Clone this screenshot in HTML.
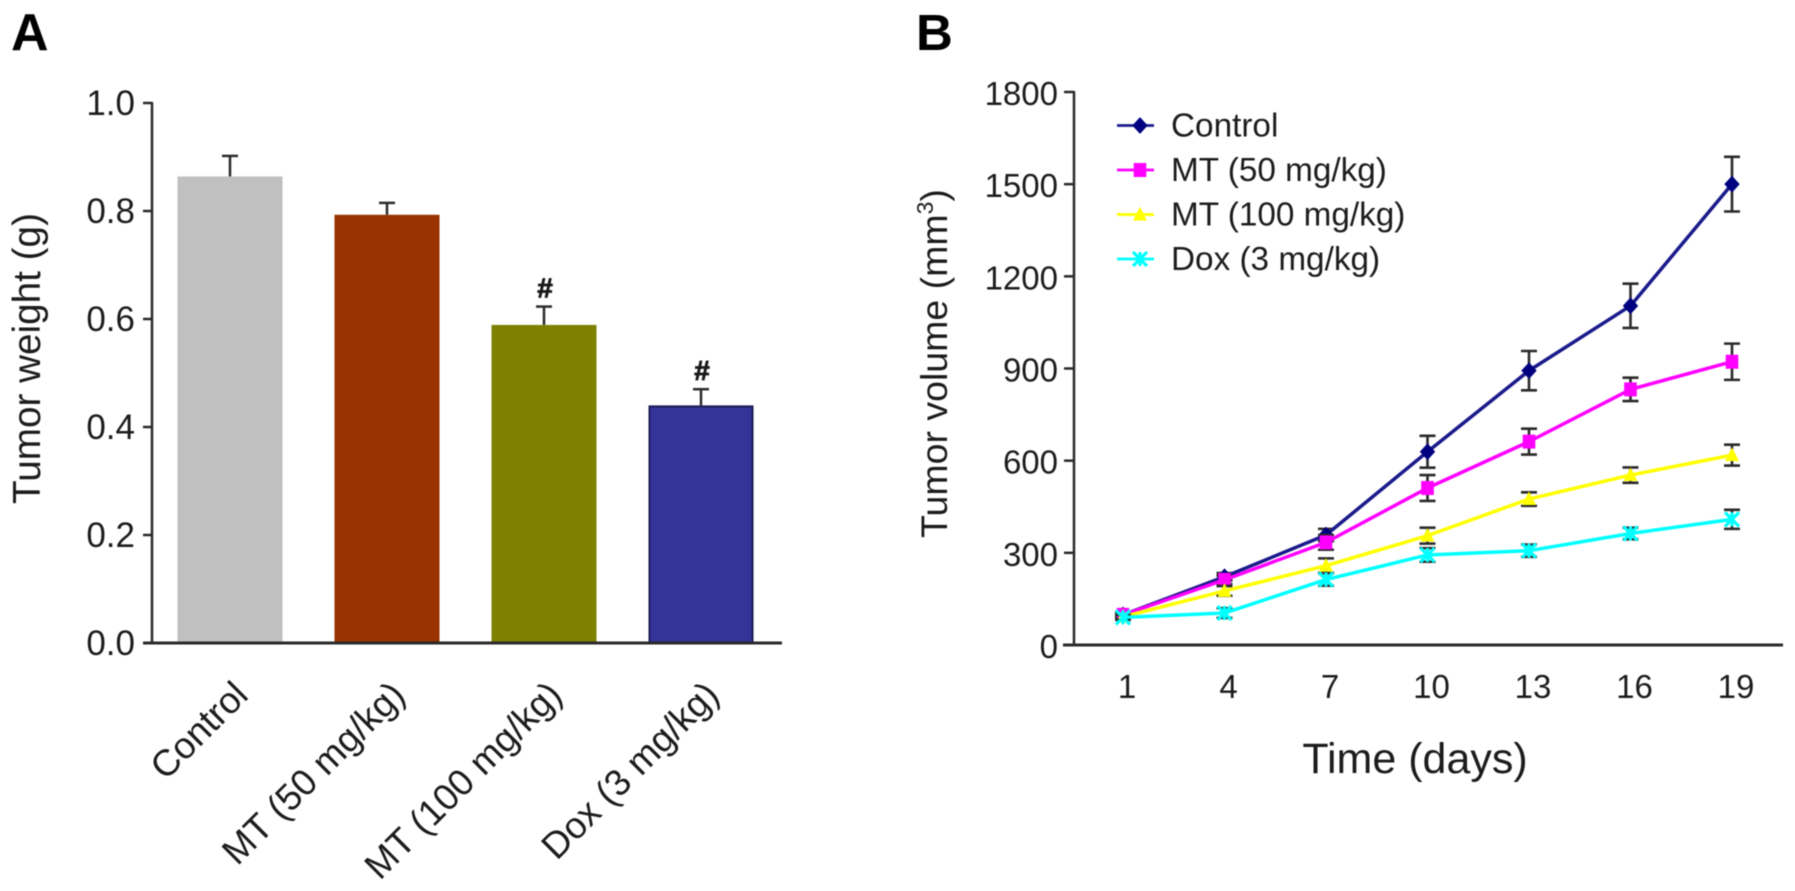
<!DOCTYPE html>
<html lang="en">
<head>
<meta charset="utf-8">
<title>Tumor weight and volume</title>
<style>
html,body{margin:0;padding:0;background:#fff;width:1795px;height:891px;overflow:hidden}
svg{display:block;filter:blur(.55px)}
text{font-family:"Liberation Sans",sans-serif;fill:#1c1c1c}
</style>
</head>
<body>
<svg id="figure" width="1795" height="891" viewBox="0 0 1795 891" xmlns="http://www.w3.org/2000/svg">
  <rect width="1795" height="891" fill="#fff"/>
  <text x="11" y="50" font-size="52" font-weight="bold" style="fill:#000">A</text>
  <text x="916" y="50" font-size="51" font-weight="bold" style="fill:#000">B</text>
  <text transform="translate(40,504) rotate(-90)" font-size="38.7">Tumor weight (g)</text>
  <text transform="translate(947,538) rotate(-90)" font-size="37.5">Tumor volume (mm<tspan font-size="23" dy="-14">3</tspan><tspan dy="14">)</tspan></text>
  <text x="1415" y="773" font-size="43" text-anchor="middle">Time (days)</text>
  <g id="panel-a"></g>
  <g id="panel-b"></g>
  <g id="legend"></g>
</svg>
<script>
// Panel A data
const barCategories = ['Control', 'MT (50 mg/kg)', 'MT (100 mg/kg)', 'Dox (3 mg/kg)'];
const barValues = [0.864, 0.793, 0.589, 0.44];
const barErrors = [0.038, 0.022, 0.034, 0.03];
const barSignificant = [false, false, true, true];
const barColors = ['#c0c0c0', '#993300', '#808000', '#333399'];
const barEdges = ['#c0c0c0', '#993300', '#808000', '#1c1c55'];
const weightTicks = ['0.0', '0.2', '0.4', '0.6', '0.8', '1.0'];

// Panel B data
const days = ['1', '4', '7', '10', '13', '16', '19'];
const volumeTicks = ['0', '300', '600', '900', '1200', '1500', '1800'];
const seriesNames = ['Control', 'MT (50 mg/kg)', 'MT (100 mg/kg)', 'Dox (3 mg/kg)'];
const controlValues = [98, 222, 358, 629, 893, 1104, 1500];
const controlErrors = [10, 12, 20, 52, 64, 72, 89];
const mt50Values = [98, 212, 334, 511, 662, 832, 922];
const mt50Errors = [8, 14, 24, 42, 42, 38, 59];
const mt100Values = [92, 176, 258, 356, 475, 553, 618];
const mt100Errors = [8, 16, 24, 26, 22, 25, 34];
const doxValues = [90, 104, 213, 293, 307, 363, 409];
const doxErrors = [8, 16, 20, 22, 20, 19, 31];

const NS = 'http://www.w3.org/2000/svg';
const INK = '#2a2a2a';

function make(parent, tag, attrs, text) {
  const el = document.createElementNS(NS, tag);
  for (const k in attrs) el.setAttribute(k, attrs[k]);
  if (text !== undefined) el.textContent = text;
  parent.appendChild(el);
  return el;
}

// ---------- Panel A ----------
const panelA = document.getElementById('panel-a');
const yA = v => 643 - v * 540;
const xA = i => 230 + 157 * i;
const BAR_W = 105;

barCategories.forEach((cat, i) => {
  const cx = xA(i);
  const top = yA(barValues[i]);
  const capY = yA(barValues[i] + barErrors[i]);
  const stem = make(panelA, 'line', {x1: cx, x2: cx, y1: capY, y2: top, stroke: INK, 'stroke-width': 2.5});
  
  
  const cap = make(panelA, 'line', {x1: cx - 8, x2: cx + 8, y1: capY, y2: capY, stroke: INK, 'stroke-width': 2.5});
  
  
  const bar = make(panelA, 'rect', {x: cx - BAR_W / 2 + 1, y: top + 1, width: BAR_W - 2, height: yA(0) - top - 1, fill: barColors[i], stroke: barEdges[i], 'stroke-width': 2});
  
  
  if (barSignificant[i]) {
    const mark = make(panelA, 'text', {x: cx + 1, y: capY - 9, 'font-size': 28, 'font-weight': 'bold', 'text-anchor': 'middle', stroke: '#111', 'stroke-width': 0.8}, '#');
    
    
  }
  const label = make(panelA, 'text', {transform: 'translate(' + (cx + 20) + ',697) rotate(-45)', 'font-size': 37, 'text-anchor': 'end'}, cat);
  
  
});

const axisAY = make(panelA, 'line', {x1: 152, x2: 152, y1: yA(1) - 1, y2: yA(0), stroke: INK, 'stroke-width': 2.5});


const axisAX = make(panelA, 'line', {x1: 143, x2: 782, y1: yA(0), y2: yA(0), stroke: INK, 'stroke-width': 3});



weightTicks.forEach(t => {
  const y = yA(parseFloat(t));
  const tick = make(panelA, 'line', {x1: 143, x2: 152, y1: y, y2: y, stroke: INK, 'stroke-width': 2.5});
  
  
  const lab = make(panelA, 'text', {x: 135, y: y + 12, 'font-size': 35, 'text-anchor': 'end'}, t);
  
  
});

// ---------- Panel B ----------
const panelB = document.getElementById('panel-b');
const yB = v => 645 - v * 553 / 1800;
const xB = i => 1123 + 101.5 * i;

const axisBY = make(panelB, 'line', {x1: 1074, x2: 1074, y1: yB(1800) - 1, y2: yB(0), stroke: INK, 'stroke-width': 2.5});


const axisBX = make(panelB, 'line', {x1: 1063, x2: 1783, y1: yB(0), y2: yB(0), stroke: INK, 'stroke-width': 3});



volumeTicks.forEach(t => {
  const y = yB(parseFloat(t));
  const tick = make(panelB, 'line', {x1: 1064, x2: 1074, y1: y, y2: y, stroke: INK, 'stroke-width': 2.5});
  
  
  const lab = make(panelB, 'text', {x: 1058, y: y + 13, 'font-size': 33, 'text-anchor': 'end'}, t);
  
  
});

days.forEach((d, i) => {
  const lab = make(panelB, 'text', {x: xB(i) + 4, y: 698, 'font-size': 33, 'text-anchor': 'middle'}, d);
  
  
});

function drawMarker(parent, kind, x, y, color, size) {
  const s = size;
  let el;
  if (kind === 'diamond') {
    el = make(parent, 'polygon', {points: [[x, y - s * 1.2], [x + s * 1.1, y], [x, y + s * 1.2], [x - s * 1.1, y]].join(' '), fill: '#000080'});
  } else if (kind === 'square') {
    el = make(parent, 'rect', {x: x - s * .9, y: y - s, width: s * 1.8, height: s * 2, fill: color});
  } else if (kind === 'triangle') {
    el = make(parent, 'polygon', {points: [[x, y - s * 1.1], [x + s, y + s * .85], [x - s, y + s * .85]].join(' '), fill: color});
  } else {
    el = make(parent, 'path', {d: 'M' + (x - s) + ' ' + (y - s) + 'L' + (x + s) + ' ' + (y + s) + 'M' + (x + s) + ' ' + (y - s) + 'L' + (x - s) + ' ' + (y + s) + 'M' + x + ' ' + (y - s) + 'L' + x + ' ' + (y + s), stroke: color, 'stroke-width': 3.2, fill: 'none'});
  }
  
  
}

const seriesList = [
  {values: controlValues, errors: controlErrors, color: '#1a1a8c', kind: 'diamond'},
  {values: mt50Values, errors: mt50Errors, color: '#ff00ff', kind: 'square'},
  {values: mt100Values, errors: mt100Errors, color: '#ffff00', kind: 'triangle'},
  {values: doxValues, errors: doxErrors, color: '#00ffff', kind: 'star'}
];

seriesList.forEach(s => {
  s.values.forEach((v, i) => {
    const x = xB(i);
    const hi = yB(v + s.errors[i]);
    const lo = yB(v - s.errors[i]);
    const err = make(panelB, 'path', {d: 'M' + x + ' ' + hi + 'V' + lo + 'M' + (x - 8) + ' ' + hi + 'H' + (x + 8) + 'M' + (x - 8) + ' ' + lo + 'H' + (x + 8), stroke: INK, 'stroke-width': 2.6, fill: 'none'});
    
    
  });
  const line = make(panelB, 'polyline', {points: s.values.map((v, i) => xB(i) + ',' + yB(v)).join(' '), fill: 'none', stroke: s.color, 'stroke-width': 3.5, 'stroke-linejoin': 'round'});
  
  
  s.values.forEach((v, i) => drawMarker(panelB, s.kind, xB(i), yB(v), s.color, 7));
});

// ---------- Legend ----------
const legend = document.getElementById('legend');
seriesNames.forEach((name, i) => {
  const y = 125.5 + 44.5 * i;
  const s = seriesList[i];
  const g = make(legend, 'g', {});
  
  
  const swatch = make(g, 'line', {x1: 1117, x2: 1154, y1: y, y2: y, stroke: s.color, 'stroke-width': 2.8});
  
  
  drawMarker(g, s.kind, 1140, y, s.color, 7);
  const txt = make(g, 'text', {x: 1171, y: y + 11, 'font-size': 33.3}, name);
  
  
});
</script>
</body>
</html>
